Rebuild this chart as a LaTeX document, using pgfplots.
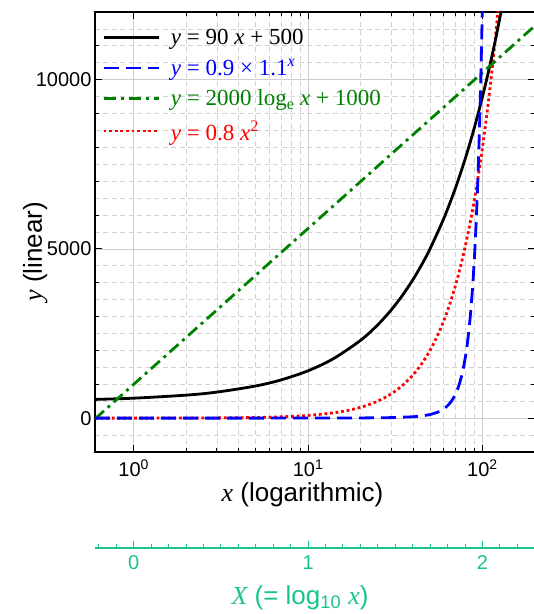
\documentclass[border=0pt]{standalone}
\usepackage{pgfplots}
\pgfplotsset{compat=1.18}
\usepackage{pgfplotstable}
\usepackage{fontspec}
\setmainfont{Liberation Sans}
\newfontfamily\tms{Liberation Serif}
\definecolor{tealx}{RGB}{25,195,140}
\definecolor{dgreen}{RGB}{0,128,0}

\pgfplotstableread{
x y
0.6 554
1 590
2 680
3 770
5 950
7 1130
10 1400
14 1760
20 2300
25 2750
30 3200
35 3650
40 4100
45 4550
50 5000
60 5900
70 6800
80 7700
90 8600
100 9500
110 10400
120 11300
130 12200
}\linear

\pgfplotstableread{
x y
0.6 0.953
1 0.99
2 1.089
5 1.449
10 2.334
20 6.055
30 15.70
40 40.73
45 65.6
50 105.65
55 170.2
58 226.5
60 274.0
62 331.6
64 401.2
66 485.5
68 587.4
70 710.8
72 860.0
74 1040.6
76 1259.2
78 1523.6
80 1843.6
82 2230.7
84 2699.2
86 3266.0
88 3951.8
90 4781.7
92 5785.8
94 7000.8
96 8471.0
98 10249.9
99 11275.0
100 12402.5
101 13642.7
}\expo

\pgfplotstableread{
x y
0.6 -21.7
1 1000
10 5605.2
100 10210.3
200 11596.6
}\logf

\pgfplotstableread{
x y
0.6 0.288
1 0.8
2 3.2
3 7.2
5 20
7 39.2
10 80
15 180
20 320
25 500
30 720
35 980
40 1280
45 1620
50 2000
55 2420
60 2880
65 3380
70 3920
75 4500
80 5120
85 5780
90 6480
95 7220
100 8000
105 8820
110 9680
115 10580
120 11520
125 12500
}\quad

\begin{document}
\begin{tikzpicture}
\begin{axis}[
  name=main,
  at={(0,0)}, anchor=south west,
  scale only axis, width=440pt, height=440pt,
  xmode=log, xmin=0.6, xmax=200, ymin=-1000, ymax=12000,
  xtick={1,10,100},
  xticklabels={10\textsuperscript{0},10\textsuperscript{1},10\textsuperscript{2}},
  ytick={0,5000,10000},
  yticklabels={0,5000,10000},
  minor ytick={-500,500,1000,1500,2000,2500,3000,3500,4000,4500,5500,6000,6500,7000,7500,8000,8500,9000,9500,10500,11000,11500},
  minor y tick style={draw=none},
  extra y ticks={-1000,1000,2000,3000,4000,6000,7000,8000,9000,11000},
  extra y tick labels={},
  extra y tick style={grid=none, major tick length=4pt},
  grid=both,
  major grid style={solid, color={rgb,255:red,205;green,205;blue,205}, line width=0.8pt},
  minor grid style={dash pattern=on 5pt off 3.5pt, color={rgb,255:red,210;green,210;blue,210}, line width=0.8pt},
  tick align=inside,
  major tick length=7pt, minor tick length=4pt,
  tick style={black, line width=1pt},
  axis line style={line width=1.4pt},
  tick label style={font=\fontsize{20}{24}\selectfont},
  xticklabel style={yshift=-4pt},
  label style={font=\fontsize{26}{30}\selectfont},
  xlabel={{\tms\itshape x} (logarithmic)},
  ylabel={{\tms\itshape y} (linear)},
  xlabel style={at={(axis description cs:0.4716,-0.098)}, anchor=center},
  ylabel style={at={(axis description cs:-0.136,0.455)}, anchor=center},
  legend style={at={(axis description cs:0.0,1)}, anchor=north west, xshift=4pt, yshift=-13pt,
    draw=none, fill=none, font=\fontsize{23}{27}\selectfont, row sep=9pt},
  legend cell align=left,
  legend image code/.code={\draw[#1] (0pt,0pt) -- (55pt,0pt); \path (64pt,0pt);},
]
\addlegendimage{black, line width=2.8pt}
\addlegendentry{{\tms{\itshape y} = 90 {\itshape x} + 500}}
\addlegendimage{blue, line width=2.8pt, dash pattern=on 15pt off 7pt}
\addlegendentry{\textcolor{blue}{\tms{\itshape y} = 0.9 × 1.1\textsuperscript{\itshape x}}}
\addlegendimage{dgreen, line width=2.8pt, dash pattern=on 12pt off 5pt on 3pt off 5pt}
\addlegendentry{\textcolor{dgreen}{\tms{\itshape y} = 2000 log\textsubscript{e} {\itshape x} + 1000}}
\addlegendimage{red, line width=2.8pt, dash pattern=on 2.8pt off 2.8pt}
\addlegendentry{\textcolor{red}{\tms{\itshape y} = 0.8 {\itshape x}\textsuperscript{2}}}

\addplot[forget plot, red, line width=2.8pt, dash pattern=on 2.8pt off 2.8pt, smooth] table {\quad};
\addplot[forget plot, black, line width=2.8pt, smooth] table {\linear};
\addplot[forget plot, dgreen, line width=2.8pt, dash pattern=on 12pt off 5pt on 3pt off 5pt] table {\logf};
\addplot[forget plot, blue, line width=2.8pt, dash pattern=on 15pt off 7pt] table {\expo};
\end{axis}

\begin{axis}[
  name=sec,
  at={(0,-96pt)}, anchor=south west,
  scale only axis, width=440pt, height=10pt,
  xmin=-0.2218, xmax=2.3010, ymin=0, ymax=1,
  axis x line=bottom, axis y line=none,
  x axis line style={-, tealx, line width=1.2pt},
  xtick={0,1,2},
  xticklabels={0,1,2},
  minor xtick={-0.2,-0.1,0.1,0.2,0.3,0.4,0.5,0.6,0.7,0.8,0.9,1.1,1.2,1.3,1.4,1.5,1.6,1.7,1.8,1.9,2.1,2.2,2.3},
  tick align=inside,
  major tick length=7pt, minor tick length=4pt,
  tick style={tealx, line width=1pt},
  xticklabel style={tealx, font=\fontsize{20}{24}\selectfont, yshift=-4pt},
  xlabel={{\tms\itshape X} (= log\textsubscript{10} {\tms\itshape x})},
  xlabel style={tealx, font=\fontsize{26}{30}\selectfont, at={(axis description cs:0.466,0)}, yshift=-50pt, anchor=center},
]
\end{axis}
\pgfresetboundingbox
\path[use as bounding box] (-95pt,-162pt) rectangle (439pt,452pt);
\end{tikzpicture}
\end{document}
